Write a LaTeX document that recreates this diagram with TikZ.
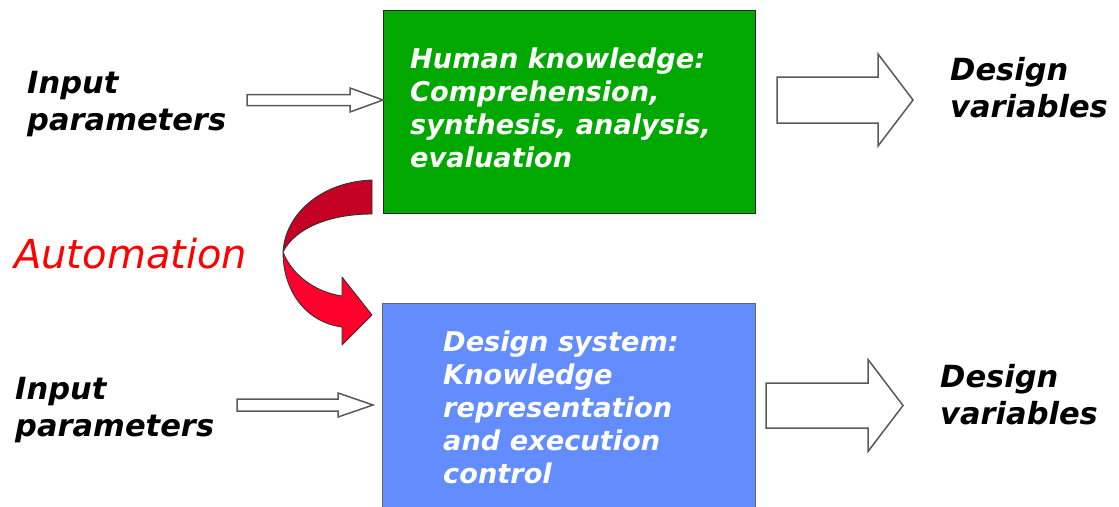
\documentclass[tikz,border=0pt]{standalone}
\usepackage{fontspec}
\newfontfamily\vfont{DejaVu Sans}
\definecolor{boxgreen}{RGB}{0,168,0}
\definecolor{boxblue}{RGB}{99,140,255}
\definecolor{twistred}{RGB}{196,0,36}
\definecolor{brightred}{RGB}{255,0,45}
\newcommand\mlines[1]{\begin{tabular}[t]{@{}l@{}}#1\end{tabular}}
\newcommand\blockarrow[6]{%
  \draw[blockarrowstyle] (#1,{#4-#5}) -- (#3,{#4-#5}) -- (#3,{#4-#6}) -- (#2,#4)
    -- (#3,{#4+#6}) -- (#3,{#4+#5}) -- (#1,{#4+#5}) -- cycle;}
\begin{document}
\begin{tikzpicture}[x=1pt,y=-1pt,
  side/.style={anchor=base west, inner sep=0pt, text=black,
    font=\vfont\bfseries\itshape\fontsize{30.5}{37}\selectfont},
  boxtext/.style={anchor=base west, inner sep=0pt, text=white,
    font=\vfont\bfseries\itshape\fontsize{27.2}{33}\selectfont},
  panel/.style={anchor=north west, inner sep=0pt, line width=1.2pt},
  blockarrowstyle/.style={draw=black!65, fill=white, line width=1.5pt, line join=miter},
  ribbon/.style={draw=black!80, line width=0.9pt, line join=round}]
\useasboundingbox (0,0) rectangle (1119,506);
% boxes
\node[panel, draw=black!85, fill=boxgreen, minimum width=372pt, minimum height=203pt] (hk) at (383,10) {};
\node[panel, draw=black!60, fill=boxblue, minimum width=373pt, minimum height=206pt] (ds) at (382,303) {};
% box texts
\node[boxtext] (hktext) at (410,68) {\mlines{Human knowledge:\\Comprehension,\\synthesis, analysis,\\evaluation}};
\node[boxtext] (dstext) at (443,351) {\mlines{Design system:\\Knowledge\\representation\\and execution\\control}};
% side labels
\node[side] (in1) at (27,93) {\mlines{Input\\parameters}};
\node[side] (in2) at (15,399) {\mlines{Input\\parameters}};
\node[side] (dv1) at (950,80) {\mlines{Design\\variables}};
\node[side] (dv2) at (940,387) {\mlines{Design\\variables}};
\node[anchor=base west, inner sep=0pt, text=red,
  font=\vfont\itshape\fontsize{40}{44}\selectfont] (auto) at (14,268) {Automation};
% block arrows
\blockarrow{247}{383}{350}{100}{5.5}{12}
\blockarrow{237}{373}{338}{405}{6}{12}
\blockarrow{777}{913}{878}{100}{23}{46}
\blockarrow{766}{903}{868}{405.5}{22.5}{46}
% curved automation arrow
\draw[ribbon, fill=twistred] (372,180) .. controls (320,182) and (285,215) .. (283,252)
   .. controls (295,228) and (330,214) .. (372,214) -- cycle;
\draw[ribbon, fill=brightred] (283,252) .. controls (292,275) and (315,292) .. (342,296)
   -- (342,277) -- (372,315) -- (342,345) -- (342,327)
   .. controls (305,322) and (283,290) .. (283,252) -- cycle;
\end{tikzpicture}
\end{document}
